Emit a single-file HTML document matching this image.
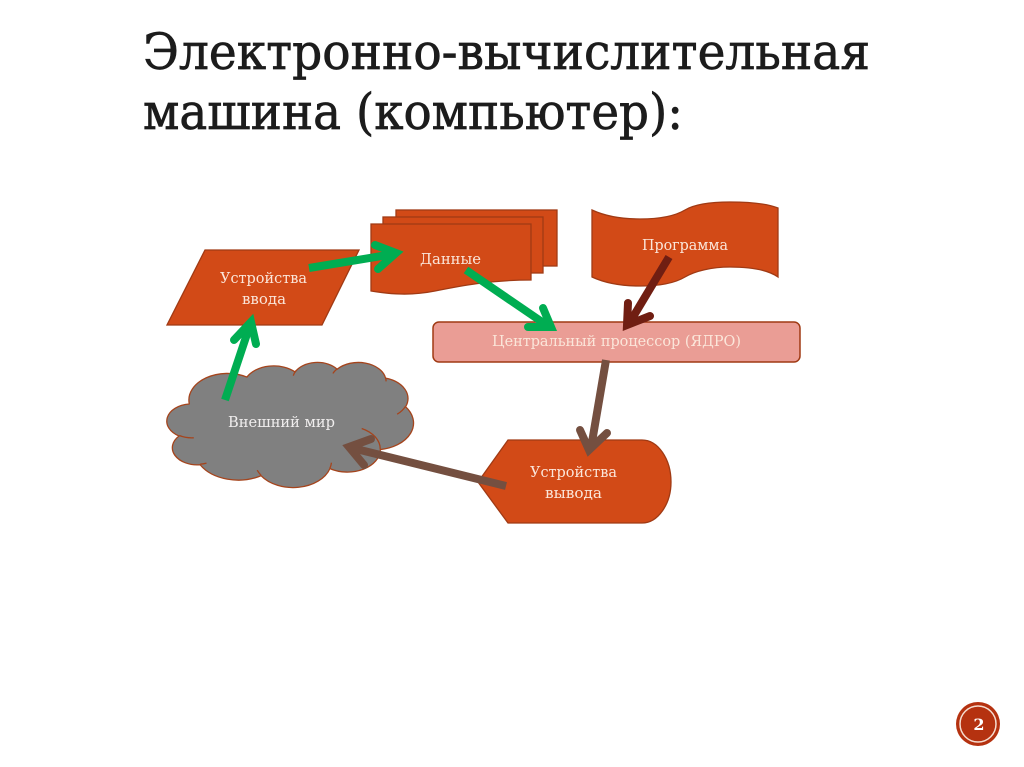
<!DOCTYPE html>
<html><head><meta charset="utf-8"><style>
html,body{margin:0;padding:0;background:#fff;width:1024px;height:767px;overflow:hidden}
svg{display:block}
text{font-family:"DejaVu Serif","Liberation Serif",serif}
.l{font-size:15px;fill:#fbe6da}
</style></head><body>
<svg width="1024" height="767" viewBox="0 0 1024 767" xmlns="http://www.w3.org/2000/svg">
<rect width="1024" height="767" fill="#fff"/>
<text x="143" y="69" font-size="50" fill="#1c1c1c" stroke="#1c1c1c" stroke-width=".7" textLength="727" lengthAdjust="spacingAndGlyphs">Электронно-вычислительная</text>
<text x="143" y="129" font-size="50" fill="#1c1c1c" stroke="#1c1c1c" stroke-width=".7" textLength="540" lengthAdjust="spacingAndGlyphs">машина (компьютер):</text>

<g fill="#d24a17" stroke="#a03a14" stroke-width="1.3">
<polygon points="205,250 359,250 322,325 167,325"/>
<rect x="396" y="210" width="161" height="56"/>
<rect x="383" y="217" width="160" height="56"/>
<path d="M371,224H531V280C490,280 460,286 435,291C410,296 390,294 371,291Z"/>
<path d="M592,210C605,216 622,219 640,219C660,219 675,216 685,210C695,204 712,202 730,202C750,202 768,204 778,208V277C768,270 750,267 730,267C712,267 695,271 685,277C675,283 660,286 640,286C622,286 605,283 592,277Z"/>
<path d="M508,440H642C658,440 671,459 671,482C671,504 658,523 642,523H508L478,482Z"/>
</g>
<rect x="433" y="322" width="367" height="40" rx="6" fill="#ea9d95" stroke="#a03a14" stroke-width="1.5"/>

<g id="cloud" fill="none" stroke="#a5441c" stroke-width="1.3"></g>
<script>
(function(){
var R=Math.PI/180/60000;
function arc(c,w,h,st,sw){
 var a=st*R,b=(st+sw)*R;
 var t1=Math.atan2(w*Math.sin(a),h*Math.cos(a)),t2=Math.atan2(w*Math.sin(b),h*Math.cos(b));
 var cx=c[0]-w*Math.cos(t1),cy=c[1]-h*Math.sin(t1);
 return [cx+w*Math.cos(t2),cy+h*Math.sin(t2),Math.abs(sw)*R>Math.PI?1:0,sw>0?1:0];
}
var sx=247/43300,sy=126/43500,ox=167,oy=362;
function X(x){return (ox+x*sx).toFixed(2)}
function Y(y){return (oy+y*sy).toFixed(2)}
function seg(c,a){var e=arc(c,a[0],a[1],a[2],a[3]);c[0]=e[0];c[1]=e[1];
 return "A"+(a[0]*sx).toFixed(2)+" "+(a[1]*sy).toFixed(2)+" 0 "+e[2]+" "+e[3]+" "+X(e[0])+" "+Y(e[1]);}
var o=[[6753,9190,-11429249,7426832],[5333,7267,-8646143,5396714],[4365,5945,-8748475,5983381],[4857,6595,-7859164,7034504],[5333,7273,-4722533,6541615],[6775,9220,-2776035,7816140],[5785,7867,37501,6842000],[6752,9215,1347096,6910353],[7720,10543,3974558,4542661],[4360,5918,-16496525,8804134],[4345,5945,-14809710,9151131]];
var c=[3900,14370],d="M"+X(c[0])+" "+Y(c[1]);
o.forEach(function(a){d+=seg(c,a)});d+="Z";
var NS="http://www.w3.org/2000/svg",g=document.getElementById("cloud");
var p=document.createElementNS(NS,"path");p.setAttribute("d",d);p.setAttribute("fill","#808080");g.appendChild(p);
var inner=[[4693,26177,4345,5945,5204520,1585770],[6928,34899,4360,5918,4416628,686848],[16478,39090,6752,9215,8257449,844866],[28827,34751,6752,9215,387196,959901],[34129,22954,5785,7867,-4217541,4255042],[41798,15354,5333,7273,1819082,1665090],[38324,5426,4857,6595,-824660,891534],[29078,3952,4365,5945,-8950887,1091722],[22141,4720,5333,7267,-9809656,1061181]];
var di="";
inner.forEach(function(i){var c=[i[0],i[1]];di+="M"+X(c[0])+" "+Y(c[1])+seg(c,i.slice(2));});
var q=document.createElementNS(NS,"path");q.setAttribute("d",di);g.appendChild(q);
})();
</script>

<g>
<text class="l" x="220" y="283" textLength="87" lengthAdjust="spacingAndGlyphs">Устройства</text>
<text class="l" x="242" y="304" textLength="44" lengthAdjust="spacingAndGlyphs">ввода</text>
<text class="l" x="420" y="264" textLength="61" lengthAdjust="spacingAndGlyphs">Данные</text>
<text class="l" x="642" y="250" textLength="86" lengthAdjust="spacingAndGlyphs">Программа</text>
<text class="l" x="492" y="346" textLength="249" lengthAdjust="spacingAndGlyphs">Центральный процессор (ЯДРО)</text>
<text class="l" x="228" y="427" textLength="107" lengthAdjust="spacingAndGlyphs" style="fill:#f0eeee">Внешний мир</text>
<text class="l" x="530" y="477" textLength="87" lengthAdjust="spacingAndGlyphs">Устройства</text>
<text class="l" x="545" y="498" textLength="57" lengthAdjust="spacingAndGlyphs">вывода</text>
</g>

<g fill="none" stroke-width="8" stroke-linecap="round" stroke-linejoin="miter" stroke-miterlimit="10">
<g stroke="#00ad52">
<path d="M309,268L394,254" stroke-linecap="butt"/><path d="M375,245L396,253L378,269"/>
<path d="M466,270L548,326" stroke-linecap="butt"/><path d="M543,308L551,327L528,327"/>
<path d="M225,400L250,325" stroke-linecap="butt"/><path d="M234,340L251,322L256,344"/>
</g>
<g stroke="#701e12">
<path d="M669,257L630,322" stroke-linecap="butt"/><path d="M628,303L627,325L650,316"/>
</g>
<g stroke="#744f40">
<path d="M606,360L591,448" stroke-linecap="butt"/><path d="M580,430L589,450L607,433"/>
<path d="M506,486L352,448" stroke-linecap="butt"/><path d="M371,439L349,447L364,465"/>
</g>
</g>

<circle cx="978" cy="724" r="22" fill="#b53210"/>
<circle cx="978" cy="724" r="18" fill="none" stroke="#f5ddd0" stroke-width="1.5"/>
<text x="979" y="730" font-size="16" font-weight="bold" fill="#fff" text-anchor="middle">2</text>
</svg>
</body></html>
